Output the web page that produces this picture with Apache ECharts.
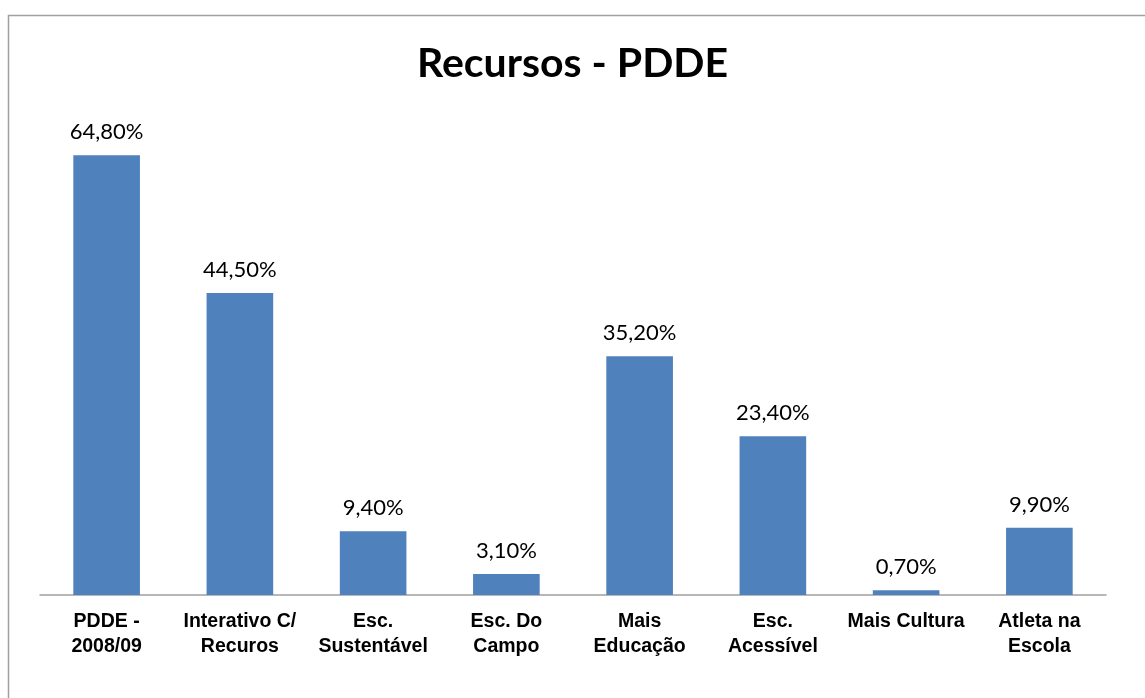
<!DOCTYPE html>
<html>
<head>
<meta charset="utf-8">
<script src="https://cdn.jsdelivr.net/npm/echarts@6/dist/echarts.min.js"></script>
<style>
  html,body{margin:0;padding:0;background:#fff;}
  #chart{width:1145px;height:698px;}
</style>
</head>
<body>
<div id="chart"></div>
<script>
// categorias e valores (%)
var categories = ['PDDE -\n2008/09', 'Interativo C/\nRecuros', 'Esc.\nSustentável', 'Esc. Do\nCampo',
    'Mais\nEducação', 'Esc.\nAcessível', 'Mais Cultura', 'Atleta na\nEscola'];
var values = [64.8, 44.5, 9.4, 3.1, 35.2, 23.4, 0.7, 9.9];
var chartTitle = 'Recursos - PDDE';

var myChart = echarts.init(document.getElementById('chart'));

var option = {
    backgroundColor: '#fff',
    animation: false,
    title: {
        text: chartTitle,
        left: 'center',
        top: 38,
        textStyle: {fontFamily: 'Lato', fontWeight: 'bold', fontSize: 41, color: '#000'}
    },
    graphic: [{
        type: 'rect',
        shape: {x: 8.5, y: 15.5, width: 1200, height: 800},
        style: {fill: 'none', stroke: '#a0a0a0', lineWidth: 1.5},
        silent: true
    }],
    grid: {left: 40, right: 39, top: 120, bottom: 103},
    xAxis: {
        type: 'category',
        data: categories,
        axisLine: {lineStyle: {color: '#a0a0a0', width: 1.5}},
        axisTick: {show: false},
        axisLabel: {
            interval: 0,
            margin: 14,
            fontFamily: 'Liberation Sans',
            fontWeight: 'bold',
            fontSize: 19.5,
            lineHeight: 25,
            color: '#000'
        }
    },
    yAxis: {
        type: 'value',
        min: 0,
        max: 70,
        show: false,
        splitLine: {show: false}
    },
    series: [{
        type: 'bar',
        data: values,
        barWidth: '50%',
        itemStyle: {color: '#4F81BD'},
        label: {
            show: true,
            position: 'top',
            distance: 12,
            fontFamily: 'Lato',
            fontSize: 22,
            color: '#000',
            formatter: function (p) {
                return p.value.toFixed(2).replace('.', ',') + '%';
            }
        }
    }]
};

myChart.setOption(option);
</script>
</body>
</html>
